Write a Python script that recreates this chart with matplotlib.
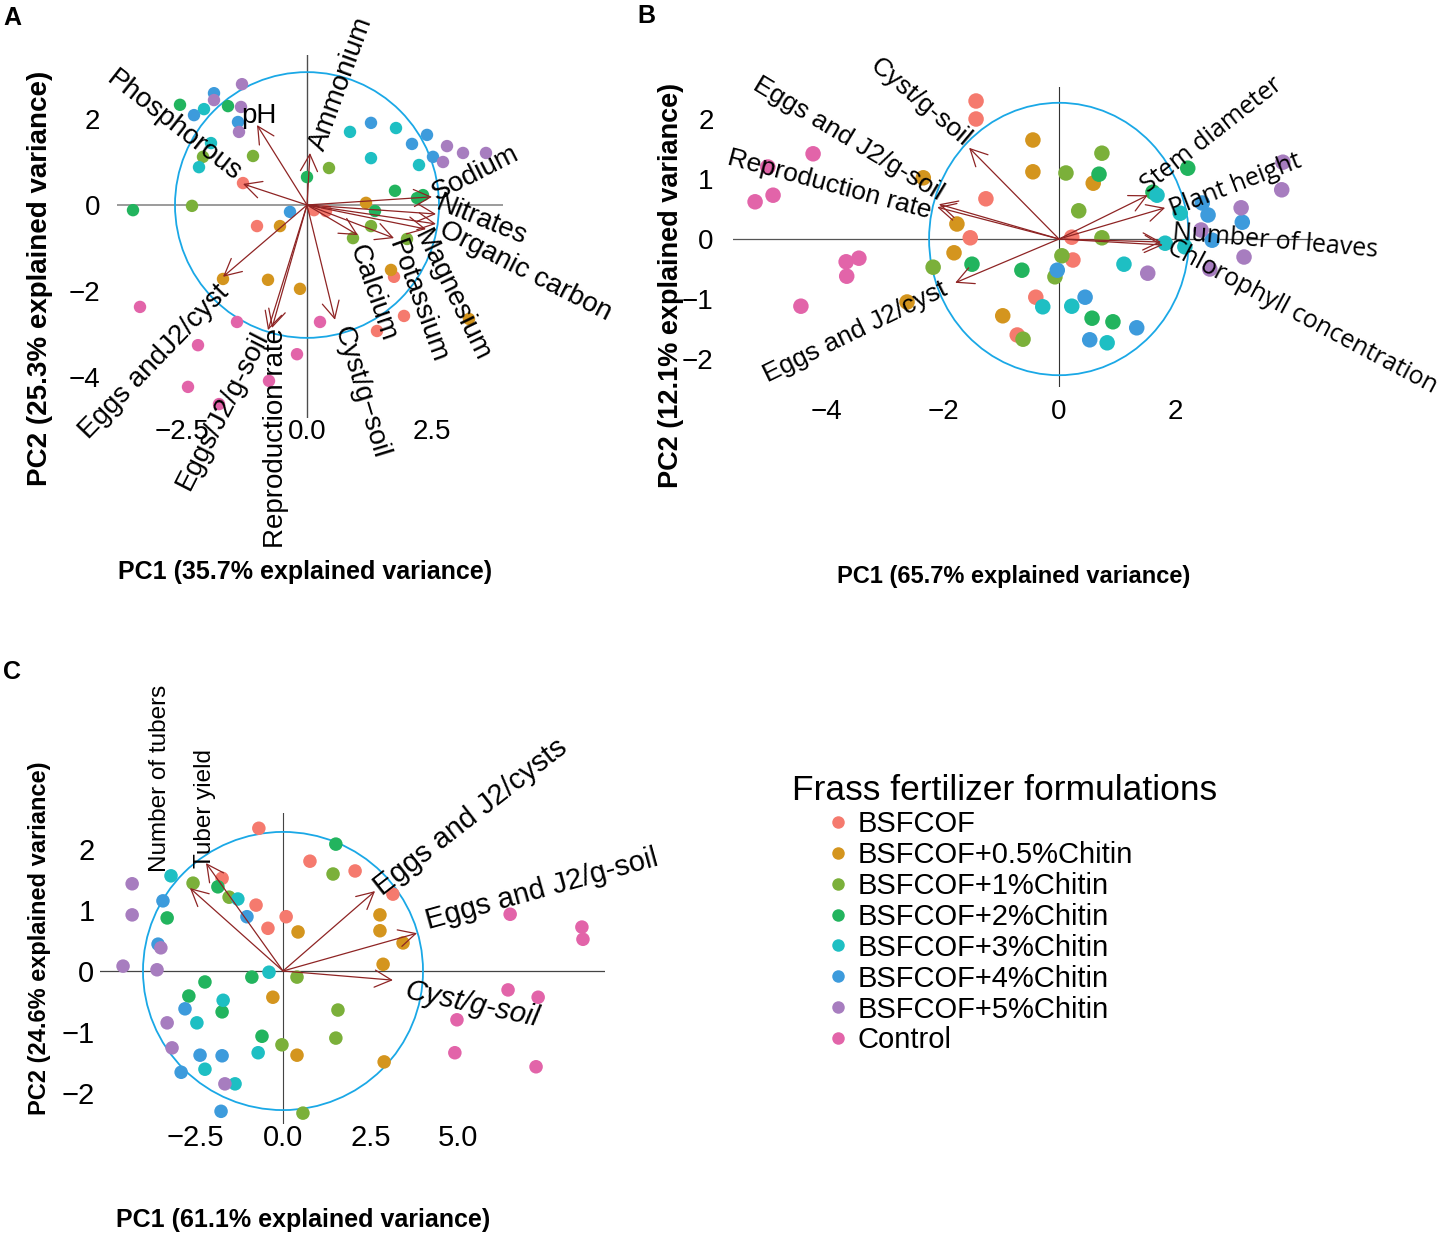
import matplotlib
matplotlib.use("Agg")
import matplotlib.pyplot as plt
from matplotlib.patches import Ellipse
from matplotlib.lines import Line2D

plt.rcParams["font.family"] = ["Liberation Sans", "DejaVu Sans"]

# ---------------------------------------------------------------- data
GROUPS = ["BSFCOF", "BSFCOF+0.5%Chitin", "BSFCOF+1%Chitin", "BSFCOF+2%Chitin",
          "BSFCOF+3%Chitin", "BSFCOF+4%Chitin", "BSFCOF+5%Chitin", "Control"]
COLORS = ["#F57A6E", "#D4951E", "#7BB03A", "#22B45E",
          "#1EBFC3", "#3D9BDC", "#A77DBF", "#E264A9"]

# Panel A - soil properties
A_PC1 = [
    [-1.28, -1.00, 0.14, 0.38, 1.74, 1.94, 1.40],
    [-0.54, -1.68, -0.78, -0.14, 1.18, 1.68, 3.24],
    [-2.08, -1.08, -2.30, 0.44, 1.28, 0.92, 2.00],
    [-2.54, -1.58, -3.48, 0.00, 1.76, 2.20, 2.32, 1.36],
    [-2.06, -1.92, -2.16, 0.86, 1.78, 1.28, 2.24],
    [-1.86, -2.26, -1.38, -0.34, 1.28, 2.40, 2.10, 2.52],
    [-1.30, -1.86, -1.32, -1.36, 2.80, 3.12, 3.58, 2.72],
    [-3.34, -1.40, -2.18, -0.20, -2.38, -0.76, -1.76, 0.26],
]
A_PC2 = [
    [0.51, -0.49, -0.12, -0.14, -1.67, -2.58, -2.93],
    [-0.49, -1.72, -1.74, -1.95, 0.05, -1.51, -2.65],
    [1.12, 1.14, -0.02, 0.86, -0.49, -0.77, -0.79],
    [2.33, 2.30, -0.12, 0.65, 0.33, 0.16, 0.23, -0.14],
    [2.23, 1.44, 0.88, 1.70, 1.79, 1.09, 0.93],
    [2.60, 2.09, 1.93, -0.16, 1.91, 1.63, 1.42, 1.12],
    [2.81, 2.44, 2.28, 1.70, 1.37, 1.21, 1.21, 1.00],
    [-2.37, -2.72, -3.26, -3.47, -4.23, -4.09, -4.63, -2.72],
]
A_VARS = ["pH", "Phosphorous", "Ammonium", "Eggs andJ2/cyst", "Eggs/J2/g-soil",
          "Reproduction rate", "Cyst/g\u2212soil", "Calcium", "Potassium",
          "Magnesium", "Organic carbon", "Nitrates", "Sodium"]
A_LOAD1 = [-1.00, -1.28, 0.06, -1.68, -0.78, -0.70, 0.56, 1.02, 1.74, 2.38, 2.58, 2.58, 2.50]
A_LOAD2 = [1.86, 0.49, 1.21, -1.67, -2.91, -2.86, -2.67, -0.70, -0.77, -0.56, -0.44, -0.21, 0.19]

# Panel B - plant growth
B_PC1 = [
    [-1.43, -1.43, -1.26, -1.53, 0.22, 0.24, -0.40, -0.72],
    [-2.34, -2.62, -0.45, -0.45, 0.59, -1.76, -1.81, -0.97],
    [-2.17, 0.12, 0.74, 0.34, 0.74, 0.05, -0.07, -0.62],
    [0.69, -1.50, -0.64, 0.57, 0.93, 2.22, 1.62],
    [-0.28, 0.22, 0.83, 1.69, 2.09, 1.83, 2.17, 1.12],
    [-0.03, 0.45, 0.53, 1.34, 2.47, 2.57, 3.16, 2.64],
    [3.86, 3.84, 3.14, 2.45, 3.19, 2.60, 1.53],
    [-4.24, -5.02, -4.93, -5.24, -3.45, -3.67, -3.66, -4.45],
]
B_PC2 = [
    [2.30, 2.00, 0.67, 0.02, 0.03, -0.35, -0.97, -1.60],
    [1.02, -1.05, 1.65, 1.12, 0.93, 0.25, -0.23, -1.28],
    [-0.47, 1.10, 1.43, 0.47, 0.02, -0.28, -0.63, -1.67],
    [1.08, -0.42, -0.52, -1.32, -1.38, 1.18, 0.78],
    [-1.13, -1.12, -1.73, 0.73, 0.43, -0.07, -0.13, -0.42],
    [-0.52, -0.97, -1.68, -1.48, 0.60, 0.40, 0.28, -0.02],
    [1.28, 0.82, 0.52, 0.15, -0.30, -0.50, -0.57],
    [1.42, 1.20, 0.73, 0.62, -0.32, -0.38, -0.62, -1.12],
]
B_VARS = ["Cyst/g-soil", "Eggs and J2/g-soil", "Reproduction rate", "Eggs and J2/cyst",
          "Stem diameter", "Plant height", "Number of leaves", "Chlorophyll concentration"]
B_LOAD1 = [-1.55, -2.07, -2.10, -1.79, 1.53, 1.83, 1.76, 1.79]
B_LOAD2 = [1.52, 0.58, 0.53, -0.73, 0.73, 0.52, -0.05, -0.10]

# Panel C - yield
C_PC1 = [
    [-0.69, -1.74, -0.77, -0.43, 0.09, 0.77, 2.06, 3.14],
    [-0.29, 0.43, 2.77, 2.77, 3.43, 2.86, 0.40, 2.89],
    [-2.57, -1.54, -0.03, 0.40, 1.43, 1.57, 1.51, 0.57],
    [-1.86, -3.31, -0.89, -2.23, -2.69, -1.74, -0.60, 1.51],
    [-3.20, -1.29, -0.40, -1.71, -2.46, -0.71, -2.23, -1.37],
    [-3.43, -1.03, -3.57, -2.80, -2.37, -1.74, -2.91, -1.77],
    [-4.31, -4.31, -3.49, -4.57, -3.60, -3.31, -3.17, -1.66],
    [6.49, 8.54, 8.57, 6.43, 7.29, 4.97, 4.91, 7.23],
]
C_PC2 = [
    [2.34, 1.52, 1.08, 0.70, 0.89, 1.80, 1.64, 1.26],
    [-0.43, 0.64, 0.92, 0.66, 0.46, 0.11, -1.38, -1.49],
    [1.44, 1.21, -1.21, -0.10, 1.59, -0.64, -1.10, -2.33],
    [1.38, 0.87, -0.10, -0.18, -0.41, -0.67, -1.07, 2.08],
    [1.56, 1.18, -0.02, -0.48, -0.85, -1.34, -1.61, -1.85],
    [1.15, 0.89, 0.44, -0.62, -1.38, -1.39, -1.66, -2.30],
    [1.43, 0.92, 0.38, 0.08, 0.02, -0.85, -1.26, -1.85],
    [0.93, 0.72, 0.52, -0.31, -0.43, -0.80, -1.34, -1.57],
]
C_VARS = ["Number of tubers", "Tuber yield", "Eggs and J2/cysts",
          "Eggs and J2/g-soil", "Cyst/g-soil"]
C_LOAD1 = [-2.66, -2.20, 2.63, 3.83, 3.14]
C_LOAD2 = [1.36, 1.77, 1.31, 0.62, -0.15]

# ---------------------------------------------------------------- layout
W, H = 1440, 1240
ARROW = "#8E2424"
CIRCLE = "#1AA8E6"
OPEN = ["Open Sans", "DejaVu Sans"]

# label anchor (x, y), angle, fontsize, family, style  (data units)
A_LABELS = [(-0.96, 2.06, 0, 20, None, "normal"), (-2.66, 1.84, -38, 20, None, "normal"),
            (0.68, 2.82, 70, 20, None, "normal"), (-3.06, -3.65, 46, 20, None, "normal"),
            (-1.68, -4.77, 63, 20, None, "normal"), (-0.62, -5.42, 90, 20, None, "normal"),
            (1.08, -4.35, -73, 20, None, "normal"), (1.32, -2.04, -71, 20, None, "normal"),
            (2.20, -2.24, -70, 20, None, "normal"), (2.90, -2.10, -64, 20, None, "normal"),
            (4.36, -1.54, -27, 20, None, "normal"), (3.50, -0.35, -22, 20, None, "normal"),
            (3.36, 0.74, 27, 20, None, "normal")]
B_LABELS = [(-2.38, 2.28, -40, 19, None, "normal"), (-3.64, 1.68, -31, 19, None, "normal"),
            (-3.95, 0.90, -15, 19, None, "normal"), (-3.52, -1.55, 26, 19, None, "normal"),
            (2.64, 1.73, 38, 18, OPEN, "normal"), (3.04, 0.90, 21, 18, OPEN, "normal"),
            (3.72, -0.05, -5, 18, OPEN, "normal"), (4.20, -1.30, -28, 18, OPEN, "normal")]
C_LABELS = [(-3.51, 3.16, 90, 17.5, None, "normal"), (-2.23, 2.67, 90, 17.5, None, "normal"),
            (5.36, 2.52, 38, 21, None, "normal"), (7.40, 1.33, 15.5, 21, None, "normal"),
            (5.40, -0.55, -12, 21, None, "italic")]


def add_panel(box, origin, scale):
    """Axes covering a pixel box; origin/scale map data units to pixels."""
    L, T, R, B = box
    x0, y0 = origin
    sx, sy = scale
    ax = fig.add_axes([L / W, 1 - B / H, (R - L) / W, (B - T) / H])
    ax.set_xlim((L - x0) / sx, (R - x0) / sx)
    ax.set_ylim((y0 - B) / sy, (y0 - T) / sy)
    for s in ax.spines.values():
        s.set_visible(False)
    ax.patch.set_alpha(0)
    return ax


def biplot(ax, pc1, pc2, load1, load2, names, labels, radius, size,
           hcol="#808080", vcol="#4d4d4d", lw=1.1):
    ax.axhline(0, color=hcol, lw=lw, zorder=1)
    ax.axvline(0, color=vcol, lw=lw * 0.9, zorder=1)
    ax.add_patch(Ellipse((0, 0), 2 * radius[0], 2 * radius[1], fill=False,
                         ec=CIRCLE, lw=1.3, zorder=2))
    for xs, ys, c in zip(pc1, pc2, COLORS):
        ax.scatter(xs, ys, s=size, color=c, edgecolors="none", zorder=3, clip_on=False)
    for lx, ly in zip(load1, load2):
        ax.annotate("", xy=(lx, ly), xytext=(0, 0), zorder=4,
                    arrowprops=dict(arrowstyle="->,head_length=0.55,head_width=0.28",
                                    color=ARROW, lw=0.9, shrinkA=0, shrinkB=0,
                                    mutation_scale=22))
    for name, (tx, ty, ang, fs, fam, st) in zip(names, labels):
        kw = {"family": fam} if fam else {}
        ax.text(tx, ty, name, rotation=ang, rotation_mode="anchor", ha="center",
                va="center", fontsize=fs, style=st, zorder=5, **kw)


fig = plt.figure(figsize=(W / 100, H / 100), dpi=100)

# ---- A
axA = add_panel((117, 55, 503, 418), (307, 205), (50, 43))
biplot(axA, A_PC1, A_PC2, A_LOAD1, A_LOAD2, A_VARS, A_LABELS, (2.64, 3.09), 80)
axA.set_xticks([-2.5, 0, 2.5], ["\u22122.5", "0.0", "2.5"])
axA.set_yticks([-4, -2, 0, 2], ["\u22124", "\u22122", "0", "2"])
axA.tick_params(length=0, labelsize=20)
axA.tick_params(axis="y", pad=12)
axA.tick_params(axis="x", pad=1)

# ---- B
axB = add_panel((733, 87, 1313, 387), (1059, 239), (58, 60))
biplot(axB, B_PC1, B_PC2, B_LOAD1, B_LOAD2, B_VARS, B_LABELS, (2.24, 2.27), 125,
       hcol="#555555", vcol="#333333", lw=0.9)
axB.set_xticks([-4, -2, 0, 2], ["\u22124", "\u22122", "0", "2"])
axB.set_yticks([-2, -1, 0, 1, 2], ["\u22122", "\u22121", "0", "1", "2"])
axB.tick_params(length=0, labelsize=20)
axB.tick_params(axis="y", pad=14)
axB.tick_params(axis="x", pad=9)

# ---- C
axC = add_panel((100, 813, 605, 1124), (283, 971), (35, 61))
biplot(axC, C_PC1, C_PC2, C_LOAD1, C_LOAD2, C_VARS, C_LABELS, (4.0, 2.28), 95,
       hcol="#444444", vcol="#444444", lw=0.9)
axC.set_xticks([-2.5, 0, 2.5, 5], ["\u22122.5", "0.0", "2.5", "5.0"])
axC.set_yticks([-2, -1, 0, 1, 2], ["\u22122", "\u22121", "0", "1", "2"])
axC.tick_params(length=0, labelsize=21)
axC.tick_params(axis="y", pad=4)
axC.tick_params(axis="x", pad=0)

# ---- axis titles and panel letters
def ftext(x, y, s, **kw):
    fig.text(x / W, 1 - y / H, s, ha="center", va="center", **kw)


ftext(305, 572, "PC1 (35.7% explained variance)", fontsize=18, weight="bold")
ftext(40, 278, "PC2 (25.3% explained variance)", fontsize=20, weight="bold", rotation=90)
ftext(1014, 577, "PC1 (65.7% explained variance)", fontsize=17, weight="bold")
ftext(671, 285, "PC2 (12.1% explained variance)", fontsize=19.5, weight="bold", rotation=90)
ftext(303, 1220, "PC1 (61.1% explained variance)", fontsize=18, weight="bold")
ftext(40, 938, "PC2 (24.6% explained variance)", fontsize=17, weight="bold", rotation=90)
ftext(12, 18, "A", fontsize=18, weight="bold")
ftext(646, 16, "B", fontsize=18, weight="bold")
ftext(12, 672, "C", fontsize=18, weight="bold")

# ---- legend
fig.text(792 / W, 1 - 790 / H, "Frass fertilizer formulations", fontsize=25.5,
         ha="left", va="center")
handles = [Line2D([], [], ls="", marker="o", ms=9, color=c, mec="none") for c in COLORS]
fig.legend(handles, GROUPS, loc="upper left", bbox_to_anchor=(831 / W, 1 - 810 / H),
           frameon=False, fontsize=21, handlelength=0.5, handletextpad=0.4,
           labelspacing=0.1, borderpad=0, borderaxespad=0)

fig.savefig("out.png", dpi=100)
